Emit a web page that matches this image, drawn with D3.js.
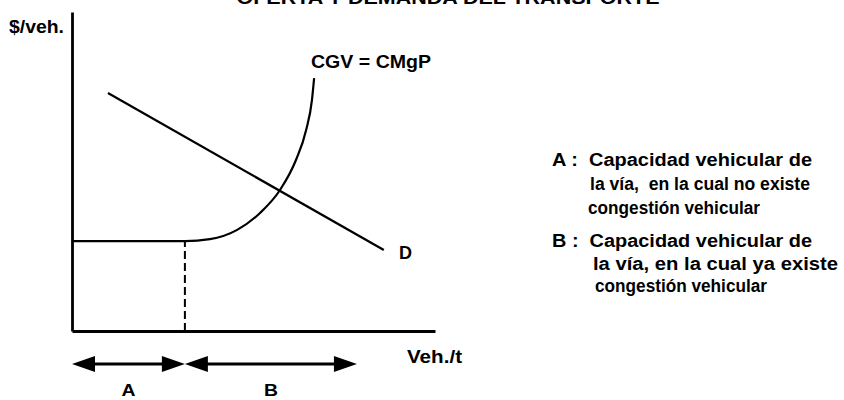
<!DOCTYPE html>
<html>
<head>
<meta charset="utf-8">
<script src="https://cdn.jsdelivr.net/npm/d3@7"></script>
<style>
  body { margin: 0; background: #fff; }
  text { font-family: Arial, "Liberation Sans", sans-serif; font-weight: bold; fill: #000; white-space: pre; }
</style>
</head>
<body>
<div id="chart"></div>
<script>
// Chart size
const width = 844;
const height = 400;

// Supply curve (CGV = CMgP): flat, then rising with congestion
const costX = [0, 31.1, 38, 45.5, 51.8, 57.3, 61.7, 64.5, 66.1, 66.7];
const costY = [28.2, 28.2, 28.8, 31.7, 37.0, 44.2, 53.6, 63.0, 72.4, 79.3];

// Demand line D
const demandX = [9.9, 85.9];
const demandY = [74.6, 25.4];

// Capacity ranges shown by the arrows under the axis
const rangeNames = ["A", "B"];
const rangeStart = [0, 31.1];
const rangeEnd = [31.1, 78.5];

// Texts
const titleText = "OFERTA Y DEMANDA DEL TRANSPORTE";
const yLabel = "$/veh.";
const xLabel = "Veh./t";
const supplyLabel = "CGV = CMgP";
const demandLabel = "D";
const notes = [
  "A :  Capacidad vehicular de",
  "la vía,  en la cual no existe",
  "congestión vehicular",
  "B :  Capacidad vehicular de",
  "la vía, en la cual ya existe",
  "congestión vehicular"
];

const svg = d3.select("#chart")
  .append("svg")
    .attr("width", width)
    .attr("height", height);

// Scales (plot area in pixels)
const x = d3.scaleLinear().domain([0, 100]).range([72, 435]);
const y = d3.scaleLinear().domain([0, 100]).range([331, 12]);

// Title (cut off at the top, as in the scan)
svg.append("text")
  .attr("x", 448).attr("y", 4)
  .attr("text-anchor", "middle")
  .attr("font-size", 19)
  .attr("textLength", 423)
  .attr("lengthAdjust", "spacingAndGlyphs")
  .text(titleText);

// Axes without ticks
svg.append("g")
  .attr("transform", `translate(0,${y(0)})`)
  .call(d3.axisBottom(x).ticks(0).tickSizeOuter(0))
  .call(g => g.select(".domain").attr("stroke-width", 2.8));

svg.append("g")
  .attr("transform", `translate(${x(0)},0)`)
  .call(d3.axisLeft(y).ticks(0).tickSizeOuter(0))
  .call(g => g.select(".domain").attr("stroke-width", 2.8));

// Dashed capacity line
svg.append("line")
  .attr("x1", x(costX[1])).attr("x2", x(costX[1]))
  .attr("y1", y(0)).attr("y2", y(costY[1]))
  .attr("stroke", "#000")
  .attr("stroke-width", 2)
  .attr("stroke-dasharray", "8,4");

// Supply curve
const costData = costX.map((v, i) => [v, costY[i]]);
svg.append("path")
  .datum(costData)
  .attr("fill", "none")
  .attr("stroke", "#000")
  .attr("stroke-width", 2.2)
  .attr("d", d3.line().x(d => x(d[0])).y(d => y(d[1])).curve(d3.curveMonotoneX));

// Demand line
const demandData = demandX.map((v, i) => [v, demandY[i]]);
svg.append("path")
  .datum(demandData)
  .attr("fill", "none")
  .attr("stroke", "#000")
  .attr("stroke-width", 2.2)
  .attr("d", d3.line().x(d => x(d[0])).y(d => y(d[1])));

// Double arrows for A and B
const arrowY = 364;
const headLen = 23;
const headHalf = 8;

rangeNames.forEach((name, i) => {
  const x0 = x(rangeStart[i]);
  const x1 = x(rangeEnd[i]);
  svg.append("line")
    .attr("x1", x0 + headLen - 2).attr("x2", x1 - headLen + 2)
    .attr("y1", arrowY).attr("y2", arrowY)
    .attr("stroke", "#000")
    .attr("stroke-width", 2.8);
  svg.append("path")
    .attr("d", `M${x0},${arrowY} L${x0 + headLen},${arrowY - headHalf} L${x0 + headLen},${arrowY + headHalf} Z`)
    .attr("fill", "#000");
  svg.append("path")
    .attr("d", `M${x1},${arrowY} L${x1 - headLen},${arrowY - headHalf} L${x1 - headLen},${arrowY + headHalf} Z`)
    .attr("fill", "#000");
  svg.append("text")
    .attr("x", (x0 + x1) / 2).attr("y", 396)
    .attr("text-anchor", "middle")
    .attr("font-size", 17)
    .attr("textLength", 14)
    .attr("lengthAdjust", "spacingAndGlyphs")
    .text(name);
});

// Axis and curve labels
svg.append("text")
  .attr("x", 9).attr("y", 33)
  .attr("font-size", 18)
  .attr("textLength", 55)
  .attr("lengthAdjust", "spacingAndGlyphs")
  .text(yLabel);

svg.append("text")
  .attr("x", 407).attr("y", 363)
  .attr("font-size", 18)
  .attr("textLength", 55)
  .attr("lengthAdjust", "spacingAndGlyphs")
  .text(xLabel);

svg.append("text")
  .attr("x", 311).attr("y", 68)
  .attr("font-size", 18)
  .attr("textLength", 120)
  .attr("lengthAdjust", "spacingAndGlyphs")
  .text(supplyLabel);

svg.append("text")
  .attr("x", 399).attr("y", 259)
  .attr("font-size", 18)
  .attr("textLength", 13)
  .attr("lengthAdjust", "spacingAndGlyphs")
  .text(demandLabel);

// Explanatory notes on the right
const noteX = [552, 590, 588, 552, 593, 595];
const noteY = [166, 190, 214, 247, 270, 292];
const noteW = [260, 220, 172, 260, 245, 172];

svg.selectAll(".note")
  .data(notes)
  .join("text")
    .attr("class", "note")
    .attr("x", (d, i) => noteX[i])
    .attr("y", (d, i) => noteY[i])
    .attr("font-size", 17.5)
    .attr("textLength", (d, i) => noteW[i])
    .attr("lengthAdjust", "spacingAndGlyphs")
    .text(d => d);
</script>
</body>
</html>
